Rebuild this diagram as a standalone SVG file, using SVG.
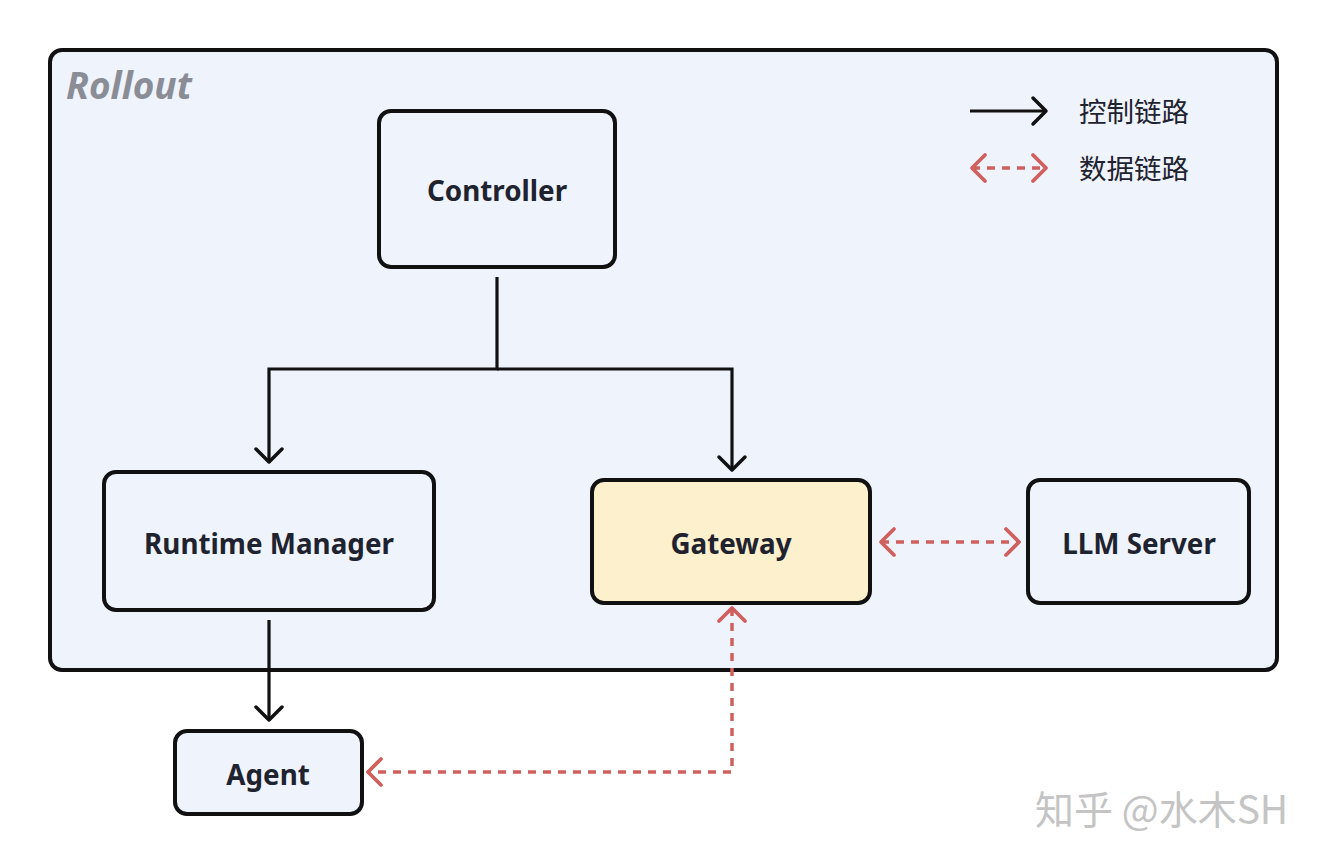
<svg xmlns="http://www.w3.org/2000/svg" width="1326" height="864" viewBox="0 0 1326 864">
<style>
.box{stroke:#111;stroke-width:4;fill:#eef3fc}
.lbl{font-family:"Noto Sans","Liberation Sans",sans-serif;font-weight:700;font-size:27.8px;fill:#1f2330;text-anchor:middle}
.ctl{fill:none;stroke:#111;stroke-width:3.2}
.dat{fill:none;stroke:#d0605e;stroke-width:3.5;stroke-dasharray:8 7}
.cn{font-family:"Noto Sans CJK SC","Noto Sans",sans-serif;font-size:27.5px;fill:#1f2330}
</style>
<defs>
<marker id="ah" markerUnits="userSpaceOnUse" viewBox="-20 -20 40 40" markerWidth="40" markerHeight="40" refX="0" refY="0" orient="auto-start-reverse">
<path d="M-13,-13 L0,0 L-13,13" fill="none" stroke="#111" stroke-width="3.5" stroke-linecap="round" stroke-linejoin="round"/>
</marker>
<marker id="ar" markerUnits="userSpaceOnUse" viewBox="-20 -20 40 40" markerWidth="40" markerHeight="40" refX="0" refY="0" orient="auto-start-reverse">
<path d="M-13,-13 L0,0 L-13,13" fill="none" stroke="#d0605e" stroke-width="3.8" stroke-linecap="round" stroke-linejoin="round"/>
</marker>
</defs>
<rect width="1326" height="864" fill="#ffffff"/>
<g id="rollout">
<rect x="50" y="50" width="1227" height="620" rx="12" class="box"/>
<text x="66" y="99" font-family="Noto Sans,Liberation Sans,sans-serif" font-weight="700" font-style="italic" font-size="37" fill="#8a8d96">Rollout</text>
</g>
<g id="legend">
<line x1="970" y1="111" x2="1046" y2="111" class="ctl" marker-end="url(#ah)"/>
<text x="1079" y="122" class="cn">控制链路</text>
<line x1="972" y1="168" x2="1046" y2="168" class="dat" marker-start="url(#ar)" marker-end="url(#ar)"/>
<text x="1079" y="179" class="cn">数据链路</text>
</g>
<g id="controller">
<rect x="379" y="111" width="236" height="156" rx="12" class="box"/>
<text x="497" y="201" class="lbl">Controller</text>
</g>
<g id="runtime-manager">
<rect x="104" y="472" width="330" height="138" rx="12" class="box"/>
<text x="269" y="554" class="lbl">Runtime Manager</text>
</g>
<g id="gateway">
<rect x="592" y="480" width="278" height="123" rx="12" class="box" style="fill:#fdf0cd"/>
<text x="731" y="554" class="lbl">Gateway</text>
</g>
<g id="llm-server">
<rect x="1028" y="480" width="221" height="123" rx="12" class="box"/>
<text x="1139" y="554" class="lbl">LLM Server</text>
</g>
<g id="agent">
<rect x="175" y="731" width="187" height="83" rx="12" class="box"/>
<text x="268" y="785" class="lbl">Agent</text>
</g>
<g id="connectors">
<polyline points="497,277 497,369 269,369 269,462" class="ctl" marker-end="url(#ah)"/>
<polyline points="497,369 732,369 732,470" class="ctl" marker-end="url(#ah)"/>
<line x1="269" y1="620" x2="269" y2="720" class="ctl" marker-end="url(#ah)"/>
<line x1="881" y1="542" x2="1019" y2="542" class="dat" marker-start="url(#ar)" marker-end="url(#ar)"/>
<polyline points="732,608 732,772 368,772" class="dat" marker-start="url(#ar)" marker-end="url(#ar)"/>
</g>
<text x="1035" y="824" font-family="Noto Sans CJK SC,Noto Sans,sans-serif" font-size="39" fill="#c4c4c4">知乎 @水木SH</text>
</svg>
